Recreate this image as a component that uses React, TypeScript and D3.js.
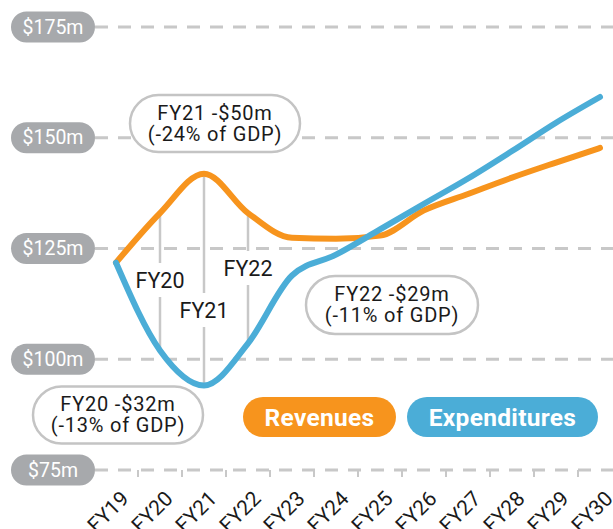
import React from "react";
import * as d3 from "d3";

const years = ["FY19", "FY20", "FY21", "FY22", "FY23", "FY24", "FY25", "FY26", "FY27", "FY28", "FY29", "FY30"];
const revenues = [121.8, 133.0, 141.9, 133.0, 127.4, 127.2, 127.9, 133.6, 137.3, 141.0, 144.4, 147.7];
const expenditures = [121.8, 102.0, 94.1, 103.6, 118.9, 123.6, 129.3, 135.1, 140.8, 147.0, 153.4, 159.2];
const yTicks = [75, 100, 125, 150, 175];
const yTickLabels = ["$75m", "$100m", "$125m", "$150m", "$175m"];
const gapYears = ["FY20", "FY21", "FY22"];
const calloutLines = [
  ["FY21 -$50m", "(-24% of GDP)"],
  ["FY22 -$29m", "(-11% of GDP)"],
  ["FY20 -$32m", "(-13% of GDP)"],
];
const legendLabels = ["Revenues", "Expenditures"];

const ORANGE = "#F7941D";
const BLUE = "#4BADD7";
const PILL = "#A7A9AC";
const GRID = "#C8C8C8";
const FONT = "Roboto, 'DejaVu Sans', sans-serif";

export default function App() {
  const W = 613, H = 529;
  const x = d3.scalePoint<string>().domain(years).range([116, 600]);
  const y = d3.scaleLinear().domain([75, 175]).range([470, 27]);

  const line = d3
    .line<number>()
    .x((_, i) => x(years[i]) as number)
    .y((d) => y(d))
    .curve(d3.curveMonotoneX);

  const step = x.step();

  const gapLabelY: Record<string, number> = { FY20: 280, FY21: 310, FY22: 268 };

  const callouts = [
    { cx: 215, cy: 123.5, w: 170, h: 57 },
    { cx: 392, cy: 305, w: 172, h: 58 },
    { cx: 118, cy: 415, w: 170, h: 57 },
  ];
  const legends = [
    { x0: 243, x1: 396, color: ORANGE },
    { x0: 407, x1: 598, color: BLUE },
  ];

  return (
    <svg
      width={W}
      height={H}
      style={{ position: "fixed", left: 0, top: 0, background: "#fff" }}
      fontFamily={FONT}
    >
      {yTicks.map((t) => (
        <line
          key={t}
          x1={95}
          x2={W}
          y1={y(t)}
          y2={y(t)}
          stroke={GRID}
          strokeWidth={3}
          strokeDasharray="13 10"
        />
      ))}
      {years.slice(0, -1).map((yr) => {
        const xx = (x(yr) as number) + step / 2;
        return <line key={yr} x1={xx} x2={xx} y1={y(75)} y2={y(75) + 7} stroke={GRID} strokeWidth={2} />;
      })}

      {gapYears.map((yr) => {
        const i = years.indexOf(yr);
        const xx = x(yr) as number;
        const ly = gapLabelY[yr];
        return (
          <g key={yr}>
            <line x1={xx} x2={xx} y1={y(revenues[i])} y2={y(expenditures[i])} stroke={GRID} strokeWidth={2.5} />
            <rect x={xx - 27} y={ly - 17} width={54} height={34} fill="#fff" />
            <text x={xx} y={ly} textAnchor="middle" dominantBaseline="central" fontSize={21.5} fill="#1a1a1a">
              {yr}
            </text>
          </g>
        );
      })}

      <path d={line(revenues) || ""} fill="none" stroke={ORANGE} strokeWidth={6} strokeLinecap="round" />
      <path d={line(expenditures) || ""} fill="none" stroke={BLUE} strokeWidth={6} strokeLinecap="round" />

      {callouts.map((c, i) => (
        <g key={i}>
          <rect
            x={c.cx - c.w / 2}
            y={c.cy - c.h / 2}
            width={c.w}
            height={c.h}
            rx={c.h / 2}
            fill="#fff"
            stroke="#C4C4C4"
            strokeWidth={2.5}
          />
          <text x={c.cx} y={c.cy - 4} textAnchor="middle" fontSize={20} letterSpacing={0.8} fill="#1a1a1a">
            {calloutLines[i][0]}
          </text>
          <text x={c.cx} y={c.cy + 17} textAnchor="middle" fontSize={20} letterSpacing={0.8} fill="#1a1a1a">
            {calloutLines[i][1]}
          </text>
        </g>
      ))}

      {legends.map((l, i) => (
        <g key={i}>
          <rect x={l.x0} y={397} width={l.x1 - l.x0} height={40} rx={20} fill={l.color} />
          <text
            x={(l.x0 + l.x1) / 2}
            y={417}
            textAnchor="middle"
            dominantBaseline="central"
            fontSize={24.5}
            fontWeight={700}
            letterSpacing={0.3}
            fill="#fff"
          >
            {legendLabels[i]}
          </text>
        </g>
      ))}

      {yTicks.map((t, i) => (
        <g key={t}>
          <rect x={11} y={y(t) - 15.5} width={84} height={31} rx={15.5} fill={PILL} />
          <text x={53} y={y(t)} textAnchor="middle" dominantBaseline="central" fontSize={19.5} fill="#fff">
            {yTickLabels[i]}
          </text>
        </g>
      ))}

      {years.map((yr) => {
        const xx = (x(yr) as number) + 14;
        return (
          <text
            key={yr}
            transform={`translate(${xx},500) rotate(-45)`}
            textAnchor="end"
            fontSize={21}
            fill="#1a1a1a"
          >
            {yr}
          </text>
        );
      })}
    </svg>
  );
}
